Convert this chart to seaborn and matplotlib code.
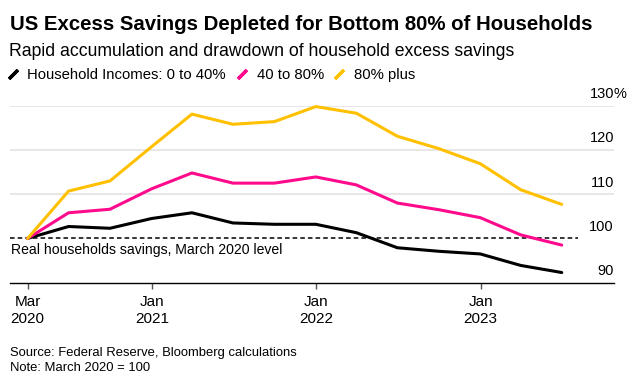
import matplotlib
matplotlib.use("Agg")
import matplotlib.pyplot as plt
import matplotlib.transforms as mtransforms
from matplotlib.lines import Line2D
import pandas as pd
import seaborn as sns

# Datos trimestrales (marzo 2020 = 100)
quarters = ["2020-03-31", "2020-06-30", "2020-09-30", "2020-12-31",
            "2021-03-31", "2021-06-30", "2021-09-30", "2021-12-31",
            "2022-03-31", "2022-06-30", "2022-09-30", "2022-12-31",
            "2023-03-31", "2023-06-30"]
low_0_40 = [100, 102.7, 102.3, 104.5, 105.8, 103.5, 103.2, 103.2,
            101.3, 97.9, 97.1, 96.5, 93.9, 92.3]
mid_40_80 = [100, 105.8, 106.6, 111.2, 114.8, 112.5, 112.5, 113.9,
             112.1, 108.0, 106.5, 104.7, 100.8, 98.5]
top_80 = [100, 110.7, 113.0, 120.7, 128.1, 125.8, 126.4, 129.8,
          128.3, 123.1, 120.3, 116.9, 111.0, 107.7]
series_names = ["Household Incomes: 0 to 40%", "40 to 80%", "80% plus"]
colors = ["#000000", "#FF0A8C", "#FFC000"]
y_ticks = [90, 100, 110, 120, 130]
x_ticks = ["2020-03-31", "2021-01-01", "2022-01-01", "2023-01-01"]
x_labels = ["Mar\n2020", "Jan\n2021", "Jan\n2022", "Jan\n2023"]

df = pd.DataFrame({
    "date": pd.to_datetime(quarters * 3),
    "value": low_0_40 + mid_40_80 + top_80,
    "series": [s for s in series_names for _ in quarters],
})

sns.set_style("white")
plt.rcParams["font.family"] = ["Liberation Sans", "DejaVu Sans"]
plt.rcParams["text.color"] = "black"
plt.rcParams["xtick.color"] = "black"

fig = plt.figure(figsize=(6.33, 3.78), dpi=100)
ax = fig.add_axes([10 / 633, 95.3 / 378, 604 / 633, 177 / 378])

sns.lineplot(data=df, x="date", y="value", hue="series", hue_order=series_names,
             palette=colors, linewidth=2.2, legend=False, ax=ax, clip_on=False)

ax.set_ylim(90, 130)
ax.set_xlim(pd.Timestamp("2020-02-21"), pd.Timestamp("2023-10-24"))

# Lineas de cuadricula
for v in [110, 120, 130]:
    ax.axhline(v, color="#e0e0e0", linewidth=1.1, zorder=0)
ax.axhline(100, xmax=0.94, color="black", linestyle=(0, (3, 2)), linewidth=1.1, zorder=1)
ax.annotate("Real households savings, March 2020 level", xy=(0, 100),
            xycoords=mtransforms.blended_transform_factory(ax.transAxes, ax.transData),
            xytext=(1, -8), textcoords="offset points", ha="left", va="center",
            fontsize=10.1, color="black")

# Etiquetas del eje Y a la derecha, sobre la cuadricula
trans = mtransforms.blended_transform_factory(ax.transAxes, ax.transData)
for v in y_ticks:
    ax.annotate(str(v), xy=(1, v), xycoords=trans, xytext=(0, 5.5),
                textcoords="offset points", ha="right", va="baseline", fontsize=10.5)
ax.annotate("%", xy=(1, 130), xycoords=trans, xytext=(0, 5.5),
            textcoords="offset points", ha="left", va="baseline", fontsize=10.5)
ax.set_yticks([])
ax.set_ylabel("")
ax.set_xlabel("")

ax.set_xticks(pd.to_datetime(x_ticks))
ax.set_xticklabels(x_labels, fontsize=11, linespacing=1.25)
ax.tick_params(axis="x", direction="out", length=4, width=1, color="#555555", pad=5, bottom=True)

for s in ["top", "right", "left"]:
    ax.spines[s].set_visible(False)
ax.spines["bottom"].set_color("black")
ax.spines["bottom"].set_linewidth(1)

# Titulos
fig.text(10 / 633, 1 - 24 / 378, "US Excess Savings Depleted for Bottom 80% of Households",
         fontsize=14.7, fontweight="bold", va="center", ha="left")
fig.text(9 / 633, 1 - 51 / 378, "Rapid accumulation and drawdown of household excess savings",
         fontsize=12.7, va="center", ha="left")

handles = [Line2D([], [], color=c, marker=(2, 2, -45), linestyle="none",
                  markersize=9, markeredgewidth=2.4) for c in colors]
fig.legend(handles, series_names, loc="center left", bbox_to_anchor=(0.0, 1 - 75 / 378),
           ncol=3, frameon=False, fontsize=10.7, handlelength=0.9, handletextpad=0.55,
           columnspacing=0.6, borderaxespad=0, borderpad=0.4)

fig.text(10 / 633, 1 - 353 / 378, "Source: Federal Reserve, Bloomberg calculations",
         fontsize=9.4, va="center", ha="left")
fig.text(10 / 633, 1 - 368 / 378, "Note: March 2020 = 100",
         fontsize=9.4, va="center", ha="left")

plt.savefig("out.png", dpi=100)
